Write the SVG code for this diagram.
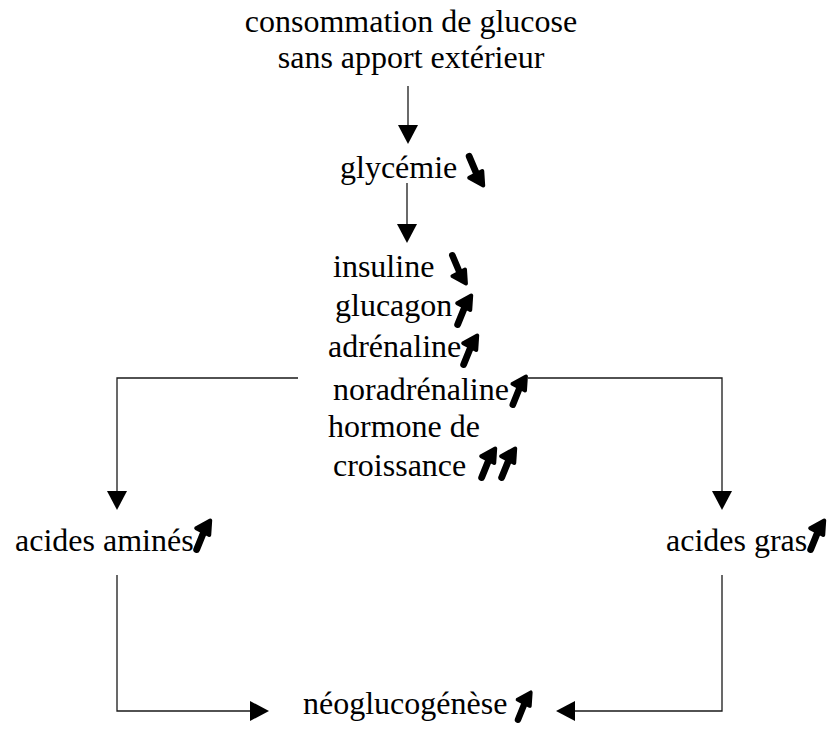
<svg xmlns="http://www.w3.org/2000/svg" xmlns:xlink="http://www.w3.org/1999/xlink" width="827" height="731" viewBox="0 0 827 731">
<defs>
<style>
text{font-family:"Liberation Serif","Times New Roman",serif;font-size:32px;fill:#000}
.ln{fill:none;stroke:#1a1a1a;stroke-width:1.3}
.ah{fill:#000}
.shaft{fill:none;stroke:#000;stroke-width:7;stroke-linecap:round}
.head{fill:#000;stroke:#000;stroke-width:4;stroke-linejoin:round}
</style>
<symbol id="up" viewBox="0 0 22 36" overflow="visible">
<path class="shaft" d="M5.5 32.5 L15 9"/>
<path class="head" d="M5 10.5 L19.5 2.5 L18.5 17.5 Z"/>
</symbol>
<symbol id="down" viewBox="0 0 22 36" overflow="visible">
<path class="shaft" d="M5 3.5 L15 27"/>
<path class="head" d="M5 25.5 L19.5 33.5 L18.5 18.5 Z"/>
</symbol>
</defs>
<rect width="827" height="731" fill="#fff"/>

<g id="connectors">
<line class="ln" x1="408" y1="86" x2="408" y2="126"/>
<polygon class="ah" points="398,125 418,125 408,144"/>
<line class="ln" x1="407" y1="183" x2="407" y2="225"/>
<polygon class="ah" points="397,224 417,224 407,243"/>
<polyline class="ln" points="298,378 117,378 117,492"/>
<polygon class="ah" points="107,491 127,491 117,510"/>
<polyline class="ln" points="528,378 722,378 722,492"/>
<polygon class="ah" points="712,491 732,491 722,510"/>
<polyline class="ln" points="117,575 117,711 251,711"/>
<polygon class="ah" points="250,701 250,721 269,711"/>
<polyline class="ln" points="722,575 722,711 574,711"/>
<polygon class="ah" points="575,701 575,721 556,711"/>
</g>

<g id="source">
<text x="411" y="32" text-anchor="middle">consommation de glucose</text>
<text x="411" y="68" text-anchor="middle">sans apport extérieur</text>
</g>

<g id="glycemie">
<text x="340" y="178">glycémie</text>
<use xlink:href="#down" x="464" y="153" width="22" height="35"/>
</g>

<g id="hormones">
<text x="333" y="277">insuline</text>
<use xlink:href="#down" x="447" y="252" width="22" height="34"/>
<text x="335" y="316">glucagon</text>
<use xlink:href="#up" x="452" y="293" width="22" height="35"/>
<text x="328" y="357">adrénaline</text>
<use xlink:href="#up" x="458" y="333" width="22" height="35"/>
<text x="333" y="400">noradrénaline</text>
<use xlink:href="#up" x="507" y="374" width="22" height="34"/>
<text x="328" y="437">hormone de</text>
<text x="333" y="476">croissance</text>
<use xlink:href="#up" x="476" y="446" width="22" height="35"/>
<use xlink:href="#up" x="496" y="446" width="22" height="35"/>
</g>

<g id="acides-amines">
<text x="15" y="551">acides aminés</text>
<use xlink:href="#up" x="191" y="518" width="22" height="35"/>
</g>

<g id="acides-gras">
<text x="666" y="551">acides gras</text>
<use xlink:href="#up" x="805" y="518" width="22" height="35"/>
</g>

<g id="neoglucogenese">
<text x="303" y="714">néoglucogénèse</text>
<use xlink:href="#up" x="512" y="690" width="22" height="33"/>
</g>
</svg>
